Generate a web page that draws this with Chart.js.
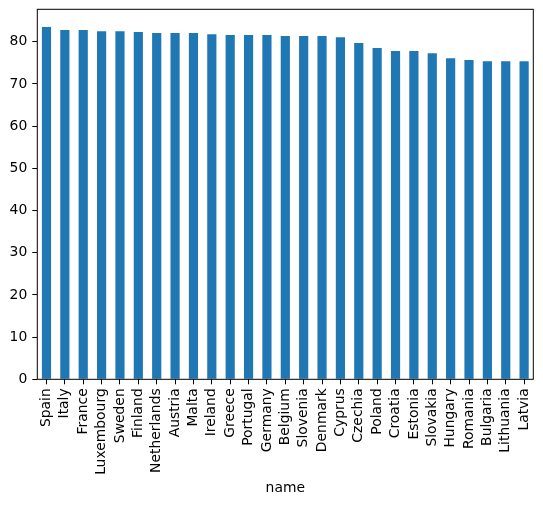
<!DOCTYPE html>
<html>
<head>
<meta charset="utf-8">
<script src="https://cdn.jsdelivr.net/npm/chart.js@4/dist/chart.umd.min.js"></script>
<style>
  html, body { margin: 0; padding: 0; background: #fff; }
  #wrap { width: 543px; height: 505px; }
</style>
</head>
<body>
<div id="wrap"><canvas id="lifeChart" width="543" height="505"></canvas></div>
<script>
// countries, sorted as in the picture
const countries = ["Spain", "Italy", "France", "Luxembourg", "Sweden", "Finland",
  "Netherlands", "Austria", "Malta", "Ireland", "Greece", "Portugal", "Germany",
  "Belgium", "Slovenia", "Denmark", "Cyprus", "Czechia", "Poland", "Croatia",
  "Estonia", "Slovakia", "Hungary", "Romania", "Bulgaria", "Lithuania", "Latvia"];

// values
const values = [83.5, 82.8, 82.8, 82.5, 82.5, 82.3, 82.1, 82.1, 82.1, 81.8,
  81.6, 81.6, 81.6, 81.4, 81.4, 81.4, 81.1, 79.7, 78.5, 77.8, 77.8, 77.3,
  76.1, 75.7, 75.4, 75.4, 75.4];

const yTicks = [0, 10, 20, 30, 40, 50, 60, 70, 80];
const xTitle = "name";

const FONT = { family: "DejaVu Sans", size: 13.9 };
Chart.defaults.color = "#000";

// box around the plot like the matplotlib axes frame
const frame = {
  id: "frame",
  afterDraw(c) {
    const a = c.chartArea, ctx = c.ctx;
    ctx.save();
    ctx.strokeStyle = "#000";
    ctx.lineWidth = 1;
    ctx.strokeRect(a.left, a.top, a.right - a.left, a.bottom - a.top);
    ctx.restore();
  }
};

new Chart(document.getElementById("lifeChart"), {
  type: "bar",
  data: {
    labels: countries,
    datasets: [{
      data: values,
      backgroundColor: "#1f77b4",
      borderWidth: 0,
      categoryPercentage: 1,
      barPercentage: 0.5
    }]
  },
  options: {
    responsive: false,
    animation: false,
    layout: { padding: { top: 9.3, right: 9.7, left: 0, bottom: 0 } },
    plugins: { legend: { display: false }, tooltip: { enabled: false } },
    scales: {
      x: {
        offset: true,
        grid: { display: true, offset: false, drawOnChartArea: false, drawTicks: true, tickLength: 5, color: "#000" },
        border: { display: false },
        ticks: { autoSkip: false, minRotation: 90, maxRotation: 90, padding: 4, font: FONT, color: "#000" },
        title: { display: true, text: xTitle, font: FONT, color: "#000", padding: { top: 4, bottom: 8.7 } },
        afterFit(s) { s.height = 125.7; s.paddingLeft = 0; s.paddingRight = 0; }
      },
      y: {
        min: 0,
        max: 87.7,
        grid: { display: true, drawOnChartArea: false, drawTicks: true, tickLength: 5, color: "#000" },
        border: { display: false },
        ticks: { stepSize: 10, padding: 5, font: FONT, color: "#000" },
        afterBuildTicks(s) { s.ticks = yTicks.map(v => ({ value: v })); },
        afterFit(s) { s.width = 37.3; s.paddingTop = 0; s.paddingBottom = 0; }
      }
    }
  },
  plugins: [frame]
});
</script>
</body>
</html>
